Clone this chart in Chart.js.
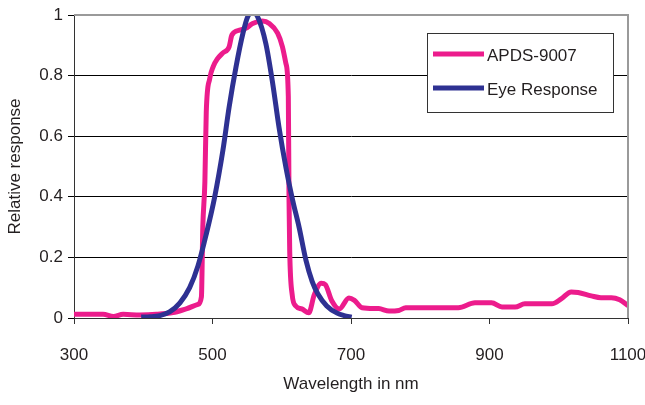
<!DOCTYPE html>
<html>
<head>
<meta charset="utf-8">
<script src="https://cdn.jsdelivr.net/npm/chart.js@4.4.1/dist/chart.umd.min.js"></script>
<style>
  html, body { margin: 0; padding: 0; background: #fff; }
  canvas { display: block; }
</style>
</head>
<body>
<canvas id="c" width="645" height="405"></canvas>
<script>
// ---- Data ----
const seriesNames = ['APDS-9007', 'Eye Response'];

const apdsWavelength = [300, 320, 342, 357, 371, 395, 419, 443, 462, 479, 484, 486, 489, 491, 496, 501, 507, 515, 524, 528, 539, 548, 558, 572, 582, 594, 601, 606, 609.5, 610.5, 611.5, 615, 620, 629, 639, 647, 657, 663, 672, 683, 697, 705, 716, 740, 755, 769, 779, 855, 879, 903, 918, 937, 951, 990, 1004, 1018, 1028, 1047, 1061, 1076, 1088, 1100];
const apdsResponse   = [0.012, 0.012, 0.012, 0.005, 0.012, 0.01, 0.012, 0.018, 0.03, 0.045, 0.07, 0.3, 0.45, 0.68, 0.79, 0.83, 0.855, 0.875, 0.895, 0.934, 0.95, 0.956, 0.972, 0.98, 0.972, 0.94, 0.895, 0.84, 0.73, 0.39, 0.22, 0.078, 0.04, 0.03, 0.017, 0.077, 0.115, 0.11, 0.058, 0.03, 0.066, 0.058, 0.034, 0.031, 0.023, 0.025, 0.034, 0.034, 0.05, 0.05, 0.036, 0.036, 0.047, 0.047, 0.064, 0.086, 0.084, 0.073, 0.067, 0.067, 0.06, 0.041];

const eyeWavelength = [397, 410, 424, 438, 453, 467, 479, 491, 503, 515, 524, 534, 544, 551, 558, 565, 577, 587, 596, 606, 616, 625, 635, 644, 652, 665, 680, 690, 701];
const eyeResponse   = [0.003, 0.004, 0.008, 0.02, 0.05, 0.1, 0.172, 0.277, 0.398, 0.553, 0.696, 0.829, 0.94, 0.995, 1.01, 0.995, 0.906, 0.773, 0.63, 0.497, 0.386, 0.3, 0.19, 0.12, 0.08, 0.04, 0.016, 0.008, 0.003];

const xTicks = [300, 500, 700, 900, 1100];
const yTicks = [0, 0.2, 0.4, 0.6, 0.8, 1];
const xTickLabels = ['300', '500', '700', '900', '1100'];
const yTickLabels = ['0', '0.2', '0.4', '0.6', '0.8', '1'];

// ---- Styling ----
const FONT = { family: "'Liberation Sans', Arial, sans-serif", size: 17 };
const TEXT = '#231f20';
const PINK = '#EC1C8C';
const BLUE = '#2E3192';

const toPoints = (xs, ys) => xs.map((x, i) => ({ x: x, y: ys[i] }));

const plotFrame = {
  id: 'plotFrame',
  afterDatasetsDraw(chart) {
    const { ctx, chartArea: a } = chart;
    ctx.save();
    ctx.strokeStyle = '#9a9a9a';
    ctx.lineWidth = 2;
    ctx.beginPath();
    ctx.moveTo(a.left, a.top);
    ctx.lineTo(a.right, a.top);
    ctx.lineTo(a.right, a.bottom);
    ctx.stroke();
    ctx.restore();
  }
};

const boxLegend = {
  id: 'boxLegend',
  afterDraw(chart) {
    const { ctx } = chart;
    const bx = 427, by = 33, bw = 186, bh = 79;
    ctx.save();
    ctx.fillStyle = '#fff';
    ctx.fillRect(bx, by, bw, bh);
    ctx.strokeStyle = '#333';
    ctx.lineWidth = 1;
    ctx.strokeRect(bx + 0.5, by + 0.5, bw, bh);
    const rows = [55, 89];
    chart.data.datasets.forEach((ds, i) => {
      const y = rows[i];
      ctx.strokeStyle = ds.borderColor;
      ctx.lineWidth = 5;
      ctx.beginPath();
      ctx.moveTo(433, y - 1);
      ctx.lineTo(484, y - 1);
      ctx.stroke();
      ctx.fillStyle = TEXT;
      ctx.font = FONT.size + 'px ' + FONT.family;
      ctx.textBaseline = 'middle';
      ctx.textAlign = 'left';
      ctx.fillText(ds.label, 487, y + 1);
    });
    ctx.restore();
  }
};

new Chart(document.getElementById('c'), {
  type: 'line',
  data: {
    datasets: [
      {
        label: seriesNames[0],
        data: toPoints(apdsWavelength, apdsResponse),
        borderColor: PINK,
        borderWidth: 5,
        pointRadius: 0,
        cubicInterpolationMode: 'monotone',
        clip: 0,
        order: 2
      },
      {
        label: seriesNames[1],
        data: toPoints(eyeWavelength, eyeResponse),
        borderColor: BLUE,
        borderWidth: 5,
        pointRadius: 0,
        cubicInterpolationMode: 'monotone',
        clip: 0,
        order: 1
      }
    ]
  },
  options: {
    responsive: false,
    devicePixelRatio: 1,
    animation: false,
    layout: { padding: { top: 15, right: 17, left: 0, bottom: 0 } },
    plugins: { legend: { display: false }, tooltip: { enabled: false } },
    scales: {
      x: {
        type: 'linear',
        min: 300,
        max: 1100,
        afterBuildTicks: s => { s.ticks = xTicks.map(v => ({ value: v })); },
        afterFit: s => { s.height = 87; s.paddingLeft = 0; s.paddingRight = 0; },
        ticks: {
          font: FONT, color: TEXT, padding: 21, maxRotation: 0, autoSkip: false,
          callback: (v) => { const i = xTicks.indexOf(v); return i >= 0 ? xTickLabels[i] : ''; }
        },
        grid: { drawOnChartArea: false, tickLength: 6, color: '#333' },
        border: { color: '#333', width: 1 },
        title: { display: true, text: 'Wavelength in nm', font: FONT, color: TEXT, padding: { top: 0, bottom: 10 } }
      },
      y: {
        type: 'linear',
        min: 0,
        max: 1,
        afterBuildTicks: s => { s.ticks = yTicks.map(v => ({ value: v })); },
        afterFit: s => { s.width = 74; s.paddingTop = 0; s.paddingBottom = 0; },
        ticks: {
          font: FONT, color: TEXT, padding: 5,
          callback: (v) => { const i = yTicks.findIndex(t => Math.abs(t - v) < 1e-9); return i >= 0 ? yTickLabels[i] : ''; }
        },
        grid: { color: '#000', tickLength: 6, lineWidth: 1 },
        border: { color: '#333', width: 1 },
        title: { display: true, text: 'Relative response', font: FONT, color: TEXT, padding: { top: 5, bottom: 0 } }
      }
    }
  },
  plugins: [plotFrame, boxLegend]
});
</script>
</body>
</html>
